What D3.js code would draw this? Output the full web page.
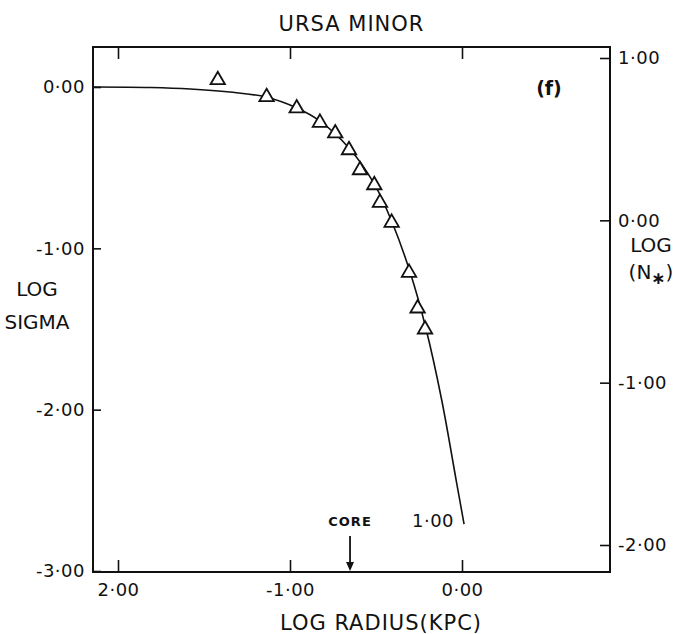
<!DOCTYPE html>
<html>
<head>
<meta charset="utf-8">
<script src="https://cdn.jsdelivr.net/npm/d3@7"></script>
<style>
    body { margin: 0; background: #fff; }
    svg text { font-family: "DejaVu Sans", sans-serif; fill: #111; }
</style>
</head>
<body>
<svg id="profile-chart"></svg>
<script>
/*--------------------------------------------------------------------------------
----- URSA MINOR SURFACE DENSITY PROFILE
--------------------------------------------------------------------------------*/

// Tick values and the labels printed on the original plate
const radius_ticks = [-2, -1, 0];
const radius_tick_labels = ["2·00", "-1·00", "0·00"];
const sigma_ticks = [0, -1, -2, -3];
const sigma_tick_labels = ["0·00", "-1·00", "-2·00", "-3·00"];
const nstar_ticks = [1, 0, -1, -2];
const nstar_tick_labels = ["1·00", "0·00", "-1·00", "-2·00"];

// Observed star counts (triangles)
const obs_log_radius = [-1.42, -1.136, -0.961, -0.826, -0.737, -0.657, -0.593, -0.510, -0.477, -0.409, -0.308, -0.258, -0.215];
const obs_log_sigma = [0.043, -0.062, -0.132, -0.221, -0.287, -0.391, -0.515, -0.608, -0.717, -0.841, -1.151, -1.372, -1.502];

// Fitted King profile
const fit_log_radius = [-2.14, -1.81, -1.58, -1.35, -1.14, -0.96, -0.826, -0.657, -0.506, -0.407, -0.302, -0.209, -0.118, -0.031, 0.012];
const fit_log_sigma = [0.0, -0.003, -0.012, -0.031, -0.062, -0.130, -0.211, -0.378, -0.608, -0.837, -1.147, -1.500, -1.940, -2.455, -2.709];

// Core radius marker
const core_log_radius = -0.651;

// Chart dimensions
const chart_width = 677, chart_height = 634;
const frame = { left: 93, right: 610, top: 47, bottom: 572 };

// Scales (left axis = log sigma, right axis = log N*)
const x_scale = d3.scaleLinear().domain([-2, 0]).range([118, 462]);
const y_scale = d3.scaleLinear().domain([0, -3]).range([87, 571]);
const y2_scale = d3.scaleLinear().domain([1, -2]).range([58, 545]);

const svg = d3.select("#profile-chart")
    .attr("width", chart_width)
    .attr("height", chart_height);

// Frame
svg.append("rect")
    .attr("x", frame.left)
    .attr("y", frame.top)
    .attr("width", frame.right - frame.left)
    .attr("height", frame.bottom - frame.top)
    .attr("fill", "none")
    .attr("stroke", "#111")
    .attr("stroke-width", 2);

// Bottom axis (ticks pointing inward)
svg.append("g")
    .attr("transform", "translate(0," + frame.bottom + ")")
    .call(d3.axisBottom(x_scale)
        .tickValues(radius_ticks)
        .tickSizeInner(-12)
        .tickSizeOuter(0)
        .tickPadding(11)
        .tickFormat(function (d, i) { return radius_tick_labels[i]; }));

// Top axis, ticks only
svg.append("g")
    .attr("transform", "translate(0," + frame.top + ")")
    .call(d3.axisTop(x_scale)
        .tickValues(radius_ticks)
        .tickSizeInner(-12)
        .tickSizeOuter(0)
        .tickFormat(""));

// Left axis
svg.append("g")
    .attr("transform", "translate(" + frame.left + ",0)")
    .call(d3.axisLeft(y_scale)
        .tickValues(sigma_ticks)
        .tickSizeInner(-8)
        .tickSizeOuter(0)
        .tickPadding(8)
        .tickFormat(function (d, i) { return sigma_tick_labels[i]; }));

// Right axis
svg.append("g")
    .attr("transform", "translate(" + frame.right + ",0)")
    .call(d3.axisRight(y2_scale)
        .tickValues(nstar_ticks)
        .tickSizeInner(-10)
        .tickSizeOuter(0)
        .tickPadding(8)
        .tickFormat(function (d, i) { return nstar_tick_labels[i]; }));

// Shared axis styling
svg.selectAll(".domain").remove();
svg.selectAll(".tick line").attr("stroke", "#111").attr("stroke-width", 1.6);
svg.selectAll(".tick text")
    .attr("font-size", 18)
    .attr("letter-spacing", 0.5)
    .attr("fill", "#111");

// Fitted curve
const fit_points = fit_log_radius.map(function (r, i) { return [r, fit_log_sigma[i]]; });
svg.append("path")
    .datum(fit_points)
    .attr("fill", "none")
    .attr("stroke", "#111")
    .attr("stroke-width", 1.6)
    .attr("d", d3.line()
        .curve(d3.curveCatmullRom)
        .x(function (d) { return x_scale(d[0]); })
        .y(function (d) { return y_scale(d[1]); }));

// Observed points as open triangles
const obs_points = obs_log_radius.map(function (r, i) { return [r, obs_log_sigma[i]]; });
svg.append("g")
    .selectAll("path")
    .data(obs_points)
    .enter().append("path")
    .attr("transform", function (d) { return "translate(" + x_scale(d[0]) + "," + y_scale(d[1]) + ")"; })
    .attr("d", d3.symbol().type(d3.symbolTriangle).size(90))
    .attr("fill", "#fff")
    .attr("stroke", "#111")
    .attr("stroke-width", 1.8);

// Core arrow
const core_x = x_scale(core_log_radius);
svg.append("line")
    .attr("x1", core_x).attr("x2", core_x)
    .attr("y1", frame.bottom - 36).attr("y2", frame.bottom - 6)
    .attr("stroke", "#111")
    .attr("stroke-width", 1.8);
svg.append("path")
    .attr("d", "M" + (core_x - 4) + "," + (frame.bottom - 10) + "L" + core_x + "," + (frame.bottom - 1) + "L" + (core_x + 4) + "," + (frame.bottom - 10) + "Z")
    .attr("fill", "#111");
svg.append("text")
    .attr("x", core_x)
    .attr("y", frame.bottom - 46)
    .attr("text-anchor", "middle")
    .attr("font-size", 13)
    .attr("font-weight", "bold")
    .attr("letter-spacing", 1)
    .text("CORE");

// Label at the end of the fitted curve
const fit_end = fit_points[fit_points.length - 1];
svg.append("text")
    .attr("x", x_scale(fit_end[0]) - 10)
    .attr("y", y_scale(fit_end[1]) + 3)
    .attr("text-anchor", "end")
    .attr("font-size", 18)
    .attr("letter-spacing", 0.5)
    .text("1·00");

// Panel letter
svg.append("text")
    .attr("x", 549)
    .attr("y", 95)
    .attr("text-anchor", "middle")
    .attr("font-size", 19)
    .attr("font-weight", "bold")
    .text("(f)");

// Titles
svg.append("text")
    .attr("x", (frame.left + frame.right) / 2)
    .attr("y", 31)
    .attr("text-anchor", "middle")
    .attr("font-size", 21)
    .attr("letter-spacing", 1)
    .text("URSA MINOR");

svg.append("text")
    .attr("x", 381)
    .attr("y", 630)
    .attr("text-anchor", "middle")
    .attr("font-size", 21)
    .attr("letter-spacing", 1)
    .text("LOG RADIUS(KPC)");

svg.append("text")
    .attr("x", 37)
    .attr("y", 296)
    .attr("text-anchor", "middle")
    .attr("font-size", 20)
    .text("LOG");
svg.append("text")
    .attr("x", 37)
    .attr("y", 329)
    .attr("text-anchor", "middle")
    .attr("font-size", 20)
    .text("SIGMA");

svg.append("text")
    .attr("x", 651)
    .attr("y", 252)
    .attr("text-anchor", "middle")
    .attr("font-size", 20)
    .text("LOG");
const nstar_label = svg.append("text")
    .attr("x", 651)
    .attr("y", 279)
    .attr("text-anchor", "middle")
    .attr("font-size", 20);
nstar_label.append("tspan").text("(N");
nstar_label.append("tspan").attr("dy", 5).attr("font-size", 17).attr("font-weight", "bold").text("∗");
nstar_label.append("tspan").attr("dy", -5).text(")");
</script>
</body>
</html>
